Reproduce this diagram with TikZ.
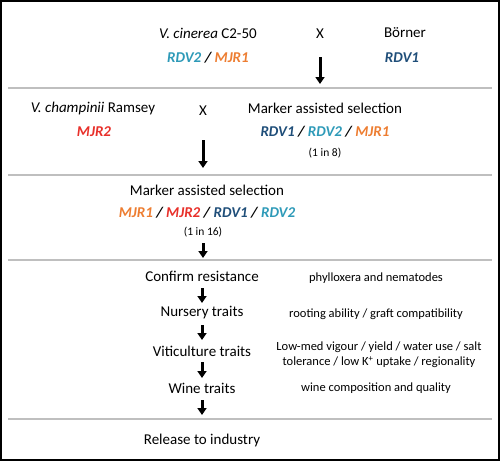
\documentclass[tikz,border=0pt]{standalone}
\usepackage{fontspec}
\setmainfont{Carlito}
\usetikzlibrary{arrows.meta}
\definecolor{rdvone}{HTML}{1F4E79}
\definecolor{rdvtwo}{HTML}{2E9AB8}
\definecolor{mjrone}{HTML}{ED7D31}
\definecolor{mjrtwo}{HTML}{E8302A}
\definecolor{sepgray}{HTML}{BFBFBF}
\begin{document}
\begin{tikzpicture}[x=1pt,y=-1pt,
  big/.style={inner sep=0pt,font=\fontsize{15}{17}\selectfont},
  gene/.style={inner sep=0pt,font=\fontsize{15}{17}\selectfont\bfseries\itshape},
  small/.style={inner sep=0pt,font=\fontsize{12.5}{15}\selectfont,align=center},
  tiny/.style={inner sep=0pt,font=\fontsize{11.5}{13}\selectfont},
  flow/.style={line width=3pt,-{Triangle[length=7pt,width=9pt]}},
  sep/.style={draw=sepgray,line width=1.2pt}]
\useasboundingbox (0,0) rectangle (500,461);
\draw[line width=2pt] (1,1) rectangle (499,460);
% separators
\coordinate (s1a) at (8,88); \coordinate (s1b) at (492,88);
\coordinate (s2a) at (8,175); \coordinate (s2b) at (492,175);
\coordinate (s3a) at (8,260); \coordinate (s3b) at (492,260);
\coordinate (s4a) at (8,419); \coordinate (s4b) at (492,419);
\draw[sep] (s1a) -- (s1b);
\draw[sep] (s2a) -- (s2b);
\draw[sep] (s3a) -- (s3b);
\draw[sep] (s4a) -- (s4b);
% row 1
\node[big] (cin) at (208,33) {\textit{V. cinerea} C2-50};
\node[big] (x1) at (320,34) {X};
\node[big] (bor) at (405,33) {Börner};
\node[gene] (g1) at (208,58) {\textcolor{rdvtwo}{RDV2} / \textcolor{mjrone}{MJR1}};
\node[gene] (g2) at (402,58) {\textcolor{rdvone}{RDV1}};
\coordinate (a1s) at (320,57); \coordinate (a1e) at (320,84);
\draw[flow] (a1s) -- (a1e);
% row 2
\node[big] (cha) at (93,108) {\textit{V. champinii} Ramsey};
\node[big] (x2) at (203,111) {X};
\node[big] (mas1) at (325,108) {Marker assisted selection};
\node[gene] (g3) at (94,132) {\textcolor{mjrtwo}{MJR2}};
\node[gene] (g4) at (325,132) {\textcolor{rdvone}{RDV1} / \textcolor{rdvtwo}{RDV2} / \textcolor{mjrone}{MJR1}};
\node[tiny] (r8) at (325,153) {(1 in 8)};
\coordinate (a2s) at (203,140); \coordinate (a2e) at (203,168);
\draw[flow] (a2s) -- (a2e);
% row 3
\node[big] (mas2) at (207,190) {Marker assisted selection};
\node[gene] (g5) at (207,213) {\textcolor{mjrone}{MJR1} / \textcolor{mjrtwo}{MJR2} / \textcolor{rdvone}{RDV1} / \textcolor{rdvtwo}{RDV2}};
\node[tiny] (r16) at (203,232) {(1 in 16)};
\coordinate (a3s) at (203,243); \coordinate (a3e) at (203,258);
\draw[flow] (a3s) -- (a3e);
% row 4
\node[big] (conf) at (202,276) {Confirm resistance};
\node[big] (nur) at (202,313) {Nursery traits};
\node[big] (vit) at (202,351) {Viticulture traits};
\node[big] (wine) at (202,388) {Wine traits};
\node[small] (d1) at (376,278) {phylloxera and nematodes};
\node[small] (d2) at (376,314) {rooting ability / graft compatibility};
\node[small] (d3) at (379,355) {Low-med vigour / yield / water use / salt\\tolerance / low K\textsuperscript{+} uptake / regionality};
\node[small] (d4) at (376,388) {wine composition and quality};
\coordinate (a4s) at (202,288); \coordinate (a4e) at (202,303);
\coordinate (a5s) at (202,325); \coordinate (a5e) at (202,340);
\coordinate (a6s) at (202,362); \coordinate (a6e) at (202,378);
\coordinate (a7s) at (202,400); \coordinate (a7e) at (202,415);
\draw[flow] (a4s) -- (a4e);
\draw[flow] (a5s) -- (a5e);
\draw[flow] (a6s) -- (a6e);
\draw[flow] (a7s) -- (a7e);
% row 5
\node[big] (rel) at (202,440) {Release to industry};
\end{tikzpicture}
\end{document}
